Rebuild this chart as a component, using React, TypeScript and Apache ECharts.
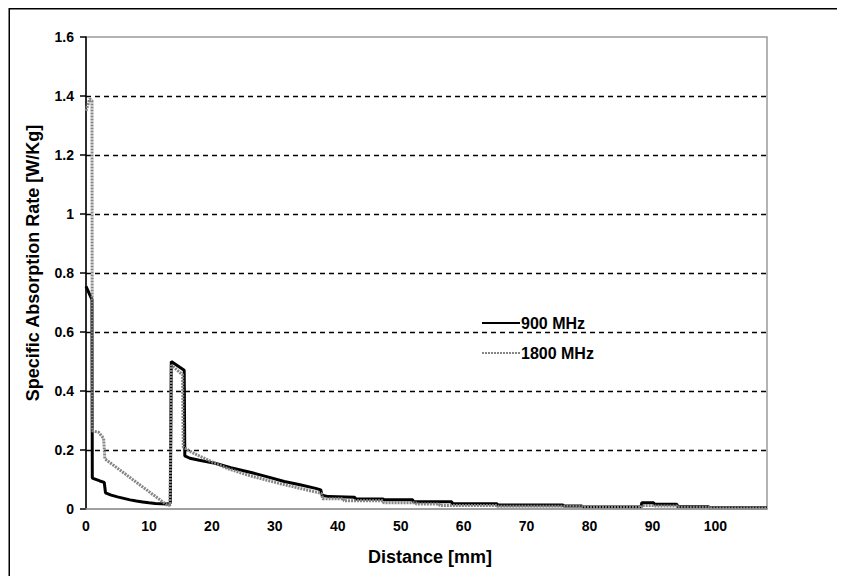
import React, { useEffect, useRef } from "react";
import * as echarts from "echarts";

const seriesNames = ["900 MHz", "1800 MHz"];

const xTickLabels = ["0", "10", "20", "30", "40", "50", "60", "70", "80", "90", "100"];
const yTickLabels = ["0", "0.2", "0.4", "0.6", "0.8", "1", "1.2", "1.4", "1.6"];

// 900 MHz (distance in mm, SAR in W/Kg)
const dist900 = [
  0, 0.95, 1.0, 2.2, 2.9, 3.1, 4, 5, 6, 7, 8, 9, 10, 11, 12.9, 13.4, 13.55, 15.6, 15.7, 16.5, 18,
  20.5, 23, 26.4, 29, 31.5, 34, 36.5, 37.3, 37.5, 38.5, 42.7, 42.8, 47.2, 47.3, 51.9, 52.0, 58.1,
  58.2, 65.3, 65.4, 75.8, 75.9, 78.8, 78.9, 88.2, 88.3, 90.2, 90.3, 93.9, 94.0, 98.9, 99.0, 108.2,
];
const sar900 = [
  0.755, 0.71, 0.105, 0.095, 0.09, 0.055, 0.047, 0.041, 0.036, 0.031, 0.027, 0.024, 0.021, 0.019,
  0.017, 0.02, 0.5, 0.47, 0.18, 0.172, 0.165, 0.155, 0.14, 0.123, 0.108, 0.093, 0.082, 0.07, 0.065,
  0.047, 0.042, 0.04, 0.034, 0.034, 0.031, 0.031, 0.025, 0.025, 0.018, 0.018, 0.0135, 0.0135, 0.01,
  0.01, 0.007, 0.007, 0.021, 0.021, 0.016, 0.016, 0.008, 0.008, 0.0045, 0.0045,
];

// 1800 MHz
const dist1800 = [
  0, 0.6, 0.95, 1.0, 2.0, 2.8, 3.0, 12.9, 13.35, 13.55, 15.35, 15.45, 17, 20, 22.5, 26, 31, 36, 37.4,
  37.6, 40.9, 41.0, 47.2, 47.3, 52.4, 52.5, 56.1, 56.2, 65.3, 65.4, 78.8, 78.9, 88.2, 88.3, 90.2, 90.3,
  93.9, 94.0, 98.9, 99.0, 108.2,
];
const sar1800 = [
  1.35, 1.39, 1.385, 0.265, 0.26, 0.24, 0.17, 0.013, 0.013, 0.488, 0.455, 0.21, 0.19, 0.16, 0.137,
  0.113, 0.085, 0.06, 0.053, 0.035, 0.035, 0.028, 0.028, 0.021, 0.021, 0.017, 0.017, 0.012, 0.012,
  0.009, 0.009, 0.006, 0.006, 0.012, 0.012, 0.01, 0.01, 0.006, 0.006, 0.003, 0.003,
];

const FONT = "'Liberation Sans', Arial, sans-serif";

export default function App() {
  const ref = useRef<HTMLDivElement>(null);

  useEffect(() => {
    if (!ref.current) return;
    const chart = echarts.init(ref.current, undefined, { renderer: "svg" });
    const d900 = dist900.map((x, i) => [x, sar900[i]]);
    const d1800 = dist1800.map((x, i) => [x, sar1800[i]]);
    const xMax = 108.2;
    const gridColors = yTickLabels.map((_, i) => (i === 0 || i === yTickLabels.length - 1 ? "rgba(0,0,0,0)" : "#000"));

    chart.setOption({
      animation: false,
      backgroundColor: "#fff",
      textStyle: { fontFamily: FONT },
      grid: {
        left: 78,
        top: 29,
        right: 70,
        bottom: 67,
        containLabel: false,
        show: true,
        borderColor: "#9a9a9a",
        borderWidth: 1.5,
        backgroundColor: "rgba(0,0,0,0)",
      },
      legend: {
        data: seriesNames,
        orient: "vertical",
        left: 468,
        top: 302,
        itemWidth: 38,
        itemHeight: 14,
        itemGap: 14,
        itemStyle: { opacity: 0 },
        textStyle: { fontFamily: FONT, fontWeight: "bold", fontSize: 16, color: "#000", padding: [0, 0, 0, -4] },
      },
      xAxis: {
        type: "value",
        min: 0,
        max: xMax,
        interval: 10,
        z: 5,
        axisLine: { show: true, lineStyle: { color: "#9a9a9a", width: 1.5 } },
        axisTick: { show: false },
        axisLabel: {
          show: true,
          margin: 10,
          showMaxLabel: false,
          fontFamily: FONT,
          fontWeight: "bold",
          fontSize: 14,
          color: "#000",
          formatter: (v: number) => {
            const idx = Math.round(v / 10);
            return Math.abs(v - idx * 10) < 1e-6 && xTickLabels[idx] !== undefined ? xTickLabels[idx] : "";
          },
        },
        splitLine: { show: false },
      },
      yAxis: {
        type: "value",
        min: 0,
        max: 1.6,
        interval: 0.2,
        z: 1,
        axisLine: { show: true, lineStyle: { color: "#000", width: 1.5 } },
        axisTick: { show: true, inside: false, length: 6, lineStyle: { color: "#000", width: 1.5 } },
        axisLabel: {
          margin: 12,
          fontFamily: FONT,
          fontWeight: "bold",
          fontSize: 14,
          color: "#000",
          formatter: (v: number) => {
            const idx = Math.round(v / 0.2);
            return yTickLabels[idx] ?? "";
          },
        },
        splitLine: { show: true, lineStyle: { color: gridColors, width: 1.3, type: [5, 4] } },
      },
      series: [
        {
          name: seriesNames[0],
          type: "line",
          data: d900,
          z: 3,
          symbol: "none",
          showSymbol: false,
          lineStyle: { color: "#000", width: 3 },
          itemStyle: { color: "#000" },
        },
        {
          name: seriesNames[1],
          type: "line",
          data: d1800,
          z: 4,
          symbol: "none",
          showSymbol: false,
          lineStyle: { color: "#858585", width: 3, type: [2, 1] },
          itemStyle: { color: "#858585" },
        },
      ],
      graphic: [
        { type: "line", shape: { x1: 1, y1: 0.75, x2: 829, y2: 0.75 }, style: { stroke: "#000", lineWidth: 1.5 } },
        { type: "line", shape: { x1: 1.25, y1: 0, x2: 1.25, y2: 568 }, style: { stroke: "#000", lineWidth: 1.5 } },
        {
          type: "text",
          x: 25,
          y: 255,
          rotation: Math.PI / 2,
          style: {
            text: "Specific Absorption Rate [W/Kg]",
            fontFamily: FONT,
            fontWeight: "bold",
            fontSize: 18,
            fill: "#000",
            align: "center",
            verticalAlign: "middle",
          },
        },
        {
          type: "text",
          x: 422,
          y: 549,
          style: {
            text: "Distance [mm]",
            fontFamily: FONT,
            fontWeight: "bold",
            fontSize: 18,
            fill: "#000",
            align: "center",
            verticalAlign: "middle",
          },
        },
      ],
    });

    return () => chart.dispose();
  }, []);

  return <div ref={ref} style={{ width: 829, height: 568 }} />;
}
